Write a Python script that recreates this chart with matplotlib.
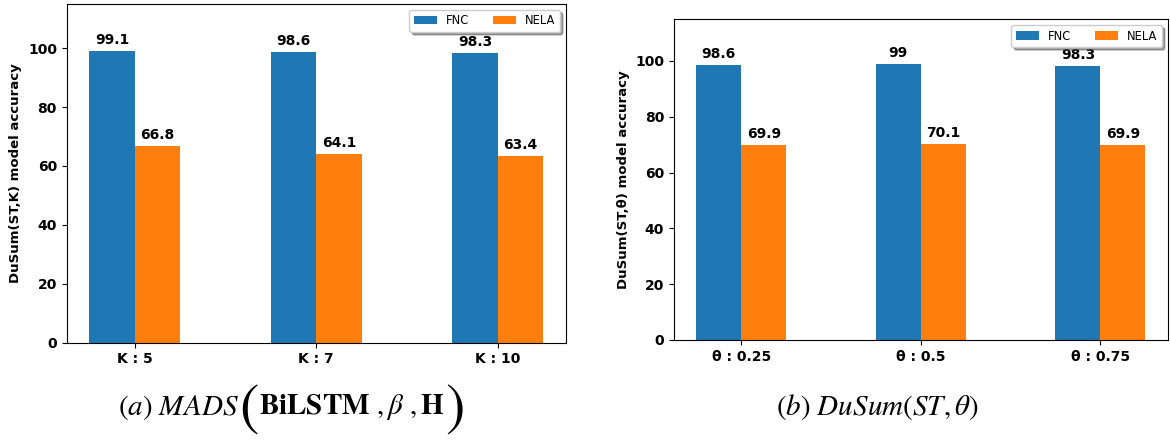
import numpy as np
import matplotlib
matplotlib.use("Agg")
import matplotlib.pyplot as plt

plt.rcParams['mathtext.fontset'] = 'stix'

# données
series = ["FNC", "NELA"]
k_labels = ["K : 5", "K : 7", "K : 10"]
k_fnc = [99.1, 98.6, 98.3]
k_nela = [66.8, 64.1, 63.4]

theta_labels = ["θ : 0.25", "θ : 0.5", "θ : 0.75"]
theta_fnc = [98.6, 99.0, 98.3]
theta_nela = [69.9, 70.1, 69.9]

fig = plt.figure(figsize=(11.7, 4.45), dpi=100)
ax1 = fig.add_axes([0.057, 0.230, 0.4265, 0.761])
ax2 = fig.add_axes([0.576, 0.236, 0.422, 0.721])


def draw(ax, labels, fnc, nela, ylabel):
    x = np.arange(len(labels))
    w = 0.25
    b1 = ax.bar(x - w / 2, fnc, w, label=series[0], color='#1f77b4')
    b2 = ax.bar(x + w / 2, nela, w, label=series[1], color='#ff7f0e')
    ax.bar_label(b1, fontweight='bold', fontsize=10, padding=3)
    ax.bar_label(b2, fontweight='bold', fontsize=10, padding=3)
    ax.set_xticks(x)
    ax.set_xticklabels(labels, fontweight='bold', fontsize=10)
    ax.set_ylim(0, 115)
    ax.set_yticks([0, 20, 40, 60, 80, 100])
    for t in ax.get_yticklabels():
        t.set_fontweight('bold')
        t.set_fontsize(10)
    ax.set_ylabel(ylabel, fontweight='bold', fontsize=9.5)
    ax.legend(loc='upper right', ncol=2, fontsize=8.3, shadow=True)


draw(ax1, k_labels, k_fnc, k_nela, "DuSum(ST,K) model accuracy")
draw(ax2, theta_labels, theta_fnc, theta_nela, "DuSum(ST,θ) model accuracy")

# légendes en dessous, morceau par morceau
renderer = fig.canvas.get_renderer()


def put_row(x0, y, pieces):
    x = x0
    for txt, size in pieces:
        t = fig.text(x, y, txt, fontsize=size, va='center', ha='left')
        bb = t.get_window_extent(renderer=renderer)
        x += bb.width / fig.bbox.width


put_row(0.101, 0.085, [(r'$(a)\ MADS$', 21),
                       (r'$($', 42),
                       (r'$\mathbf{BiLSTM}\ ,\beta\ ,\mathbf{H}$', 21),
                       (r'$)$', 42)])
put_row(0.663, 0.085, [(r'$(b)\ DuSum(ST,\theta)$', 21)])

fig.savefig("out.png", dpi=100)
